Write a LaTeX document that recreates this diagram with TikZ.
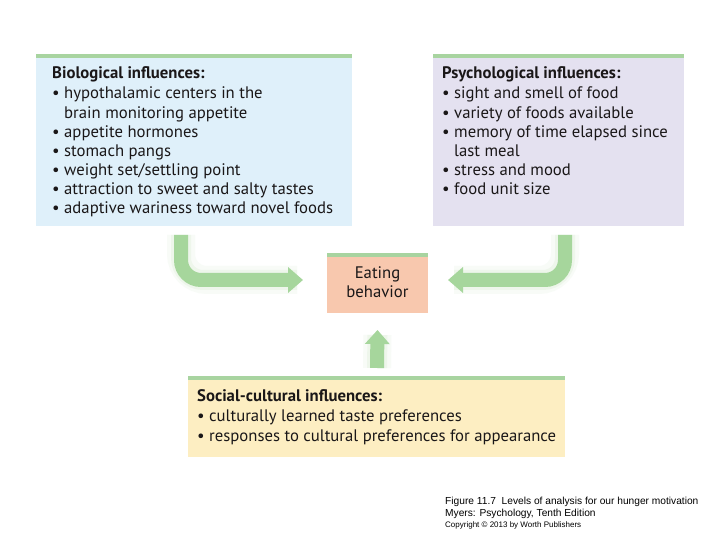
\documentclass[tikz,border=0pt]{standalone}
\usepackage{fontspec}
\setmainfont{PT Sans}
\newfontfamily\capfont{Liberation Sans}
\usetikzlibrary{arrows.meta}
\definecolor{biofill}{HTML}{DFF0FA}
\definecolor{psyfill}{HTML}{E4E1F0}
\definecolor{eatfill}{HTML}{F8C8AE}
\definecolor{socfill}{HTML}{FDEEC2}
\definecolor{stripe}{HTML}{A8D4A0}
\definecolor{arrowgreen}{HTML}{A6D69C}
\definecolor{txt}{HTML}{1A1718}
\newcommand{\bul}{\textbullet\ }
\newcommand{\ind}{\phantom{\textbullet\ }}
\begin{document}
\begin{tikzpicture}[x=1pt,y=1pt,
  box/.style={draw=none, inner sep=0pt, outer sep=0pt, anchor=north west},
  txtblock/.style={inner sep=0pt, anchor=north west, align=left, text=txt,
    font=\fontsize{16.7}{19.1}\selectfont},
  flow/.style={draw=arrowgreen, line width=14pt, rounded corners=20pt,
    -{Triangle[length=15pt,width=25pt]}},
  glowa/.style={draw=arrowgreen, line width=20pt, rounded corners=22pt, opacity=0.12},
  glowb/.style={draw=arrowgreen, line width=28pt, rounded corners=26pt, opacity=0.08}
]
\useasboundingbox (0,0) rectangle (720,540);
\fill[white] (0,0) rectangle (720,540);

% boxes
\node[box, fill=biofill, minimum width=316pt, minimum height=172pt] (bio) at (36,486) {};
\node[box, fill=psyfill, minimum width=251pt, minimum height=172pt] (psy) at (433,486) {};
\node[box, fill=eatfill, minimum width=101pt, minimum height=60pt] (eat) at (327,287) {};
\node[box, fill=socfill, minimum width=377pt, minimum height=81pt] (soc) at (188,164) {};
\foreach \b in {bio,psy,eat,soc}{
  \fill[stripe] (\b.north west) rectangle ([yshift=-4pt]\b.north east);
}

% texts
\node[txtblock] (biot) at (52,474) {\textbf{Biological influences:}\\[1.8pt]
\bul hypothalamic centers in the\\
\ind brain monitoring appetite\\
\bul appetite hormones\\
\bul stomach pangs\\
\bul weight set/settling point\\
\bul attraction to sweet and salty tastes\\
\bul adaptive wariness toward novel foods};
\node[txtblock] (psyt) at (442,474) {\textbf{Psychological influences:}\\[1.8pt]
\bul sight and smell of food\\
\bul variety of foods available\\
\bul memory of time elapsed since\\
\ind last meal\\
\bul stress and mood\\
\bul food unit size};
\node[txtblock, anchor=center, align=center] (eatt) at ([yshift=1pt]eat.center) {Eating\\behavior};
\node[txtblock, font=\fontsize{16.7}{20}\selectfont] (soct) at (197,151) {\textbf{Social-cultural influences:}\\
\bul culturally learned taste preferences\\
\bul responses to cultural preferences for appearance};

% connectors
\coordinate (lstart) at (181,305);
\coordinate (rstart) at (565,305);
\coordinate (ustart) at (377,172);
\foreach \g in {glowb,glowa}{
  \draw[\g] (lstart) |- ([xshift=-30pt,yshift=3pt]eat.west);
  \draw[\g] (rstart) |- ([xshift=26pt,yshift=3pt]eat.east);
  \draw[\g] (ustart) -- ([yshift=-22pt]eat.south);
}
\draw[flow] (lstart) |- ([xshift=-24pt,yshift=3pt]eat.west);
\draw[flow] (rstart) |- ([xshift=20pt,yshift=3pt]eat.east);
\draw[flow, -{Triangle[length=14pt,width=24pt]}] (ustart) -- ([yshift=-17pt]eat.south);

% caption
\node[inner sep=0pt, anchor=north west, align=left, font=\capfont\fontsize{10.2}{12}\selectfont] (cap) at (445,43)
 {Figure 11.7\ \ Levels of analysis for our hunger motivation\\
  Myers: Psychology, Tenth Edition\\[-1pt]
  {\fontsize{8}{11}\selectfont Copyright \textcopyright{} 2013 by Worth Publishers}};
\end{tikzpicture}
\end{document}
